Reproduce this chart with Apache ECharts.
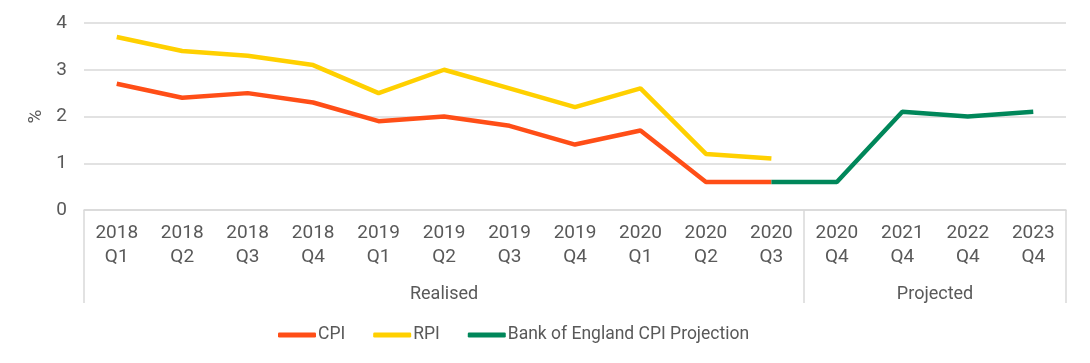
<!DOCTYPE html>
<html><head><meta charset="utf-8">
<script src="https://cdn.jsdelivr.net/npm/echarts@6/dist/echarts.min.js"></script>
<style>html,body{margin:0;padding:0;background:#fff}#c{width:1090px;height:363px}</style>
</head><body><div id="c"></div>
<script>
const categories = ['2018\nQ1','2018\nQ2','2018\nQ3','2018\nQ4','2019\nQ1','2019\nQ2','2019\nQ3','2019\nQ4','2020\nQ1','2020\nQ2','2020\nQ3','2020\nQ4','2021\nQ4','2022\nQ4','2023\nQ4'];
const cpi = [2.7,2.4,2.5,2.3,1.9,2.0,1.8,1.4,1.7,0.6,0.6,null,null,null,null];
const rpi = [3.7,3.4,3.3,3.1,2.5,3.0,2.6,2.2,2.6,1.2,1.1,null,null,null,null];
const boe = [null,null,null,null,null,null,null,null,null,null,0.6,0.6,2.1,2.0,2.1];
const groupNames = ['Realised','Projected'];
const groupBounds = [0,11,15];
const groupCenters = [5.5,13];
const yTicks = [0,1,2,3,4];

const font = 'Roboto';
const txt = '#595959';
const grey = '#d9d9d9';
const chart = echarts.init(document.getElementById('c'));
chart.setOption({
  animation:false,
  textStyle:{fontFamily:font},
  grid:{left:84,right:24,top:23,bottom:153},
  legend:{bottom:14,left:273,itemWidth:38,itemHeight:5,icon:'roundRect',itemGap:28,
    textStyle:{color:txt,fontSize:17.5,fontFamily:font,padding:[0,0,0,-3]},
    data:['CPI','RPI','Bank of England CPI Projection']},
  xAxis:[{type:'category',data:categories,boundaryGap:true,
    axisLine:{lineStyle:{color:grey,width:1.5}},axisTick:{show:false},
    axisLabel:{color:txt,fontSize:19,lineHeight:24,margin:11,fontFamily:font}},
   {type:'value',min:0,max:15,position:'bottom',splitLine:{show:false},
    axisLine:{show:false},
    axisTick:{show:true,inside:false,length:93,customValues:groupBounds,lineStyle:{color:grey,width:1.5}},
    axisLabel:{show:true,color:txt,fontSize:18,margin:75,fontFamily:font,customValues:groupCenters,
      formatter:function(v){return groupNames[groupCenters.indexOf(v)];}}}],
  yAxis:{type:'value',min:0,max:4,interval:1,name:'%',nameLocation:'middle',nameGap:34,nameRotate:90,
    nameTextStyle:{color:txt,fontSize:19,fontFamily:font},
    axisLine:{show:false},axisTick:{show:false},
    axisLabel:{color:txt,fontSize:19,margin:17,fontFamily:font,customValues:yTicks},
    splitLine:{lineStyle:{color:grey,width:1.5}}},
  series:[
    {name:'CPI',type:'line',data:cpi,symbol:'none',lineStyle:{color:'#FF4E17',width:4.5},itemStyle:{color:'#FF4E17'}},
    {name:'RPI',type:'line',data:rpi,symbol:'none',lineStyle:{color:'#FFD000',width:4.5},itemStyle:{color:'#FFD000'}},
    {name:'Bank of England CPI Projection',type:'line',data:boe,symbol:'none',lineStyle:{color:'#00875A',width:4.5},itemStyle:{color:'#00875A'}}
  ]
});
</script></body></html>
